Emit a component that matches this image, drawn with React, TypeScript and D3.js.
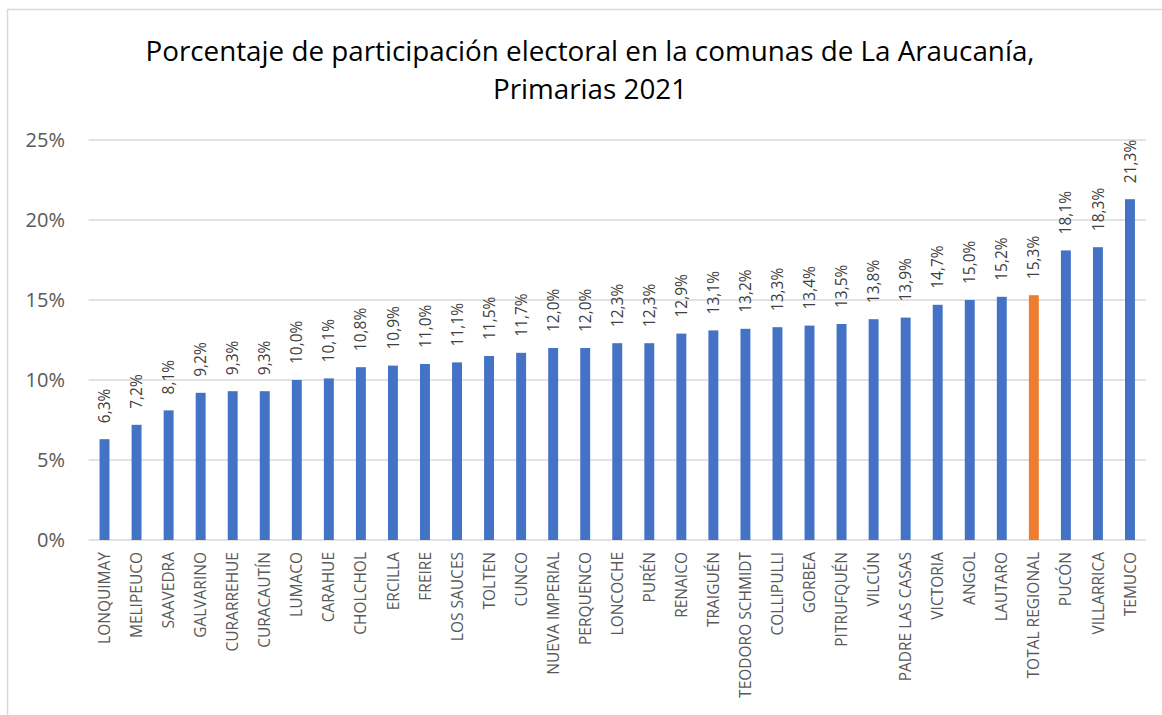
import React from "react";
import * as d3 from "d3";

const comunas: string[] = [
  "LONQUIMAY", "MELIPEUCO", "SAAVEDRA", "GALVARINO", "CURARREHUE", "CURACAUTÍN",
  "LUMACO", "CARAHUE", "CHOLCHOL", "ERCILLA", "FREIRE", "LOS SAUCES", "TOLTEN",
  "CUNCO", "NUEVA IMPERIAL", "PERQUENCO", "LONCOCHE", "PURÉN", "RENAICO",
  "TRAIGUÉN", "TEODORO SCHMIDT", "COLLIPULLI", "GORBEA", "PITRUFQUÉN", "VILCÚN",
  "PADRE LAS CASAS", "VICTORIA", "ANGOL", "LAUTARO", "TOTAL REGIONAL", "PUCÓN",
  "VILLARRICA", "TEMUCO",
];

const participacion: number[] = [
  6.3, 7.2, 8.1, 9.2, 9.3, 9.3, 10.0, 10.1, 10.8, 10.9, 11.0, 11.1, 11.5, 11.7,
  12.0, 12.0, 12.3, 12.3, 12.9, 13.1, 13.2, 13.3, 13.4, 13.5, 13.8, 13.9, 14.7,
  15.0, 15.2, 15.3, 18.1, 18.3, 21.3,
];

const highlighted: string[] = ["TOTAL REGIONAL"];

const yTicks: number[] = [0, 5, 10, 15, 20, 25];

const titleLines: string[] = [
  "Porcentaje de participación electoral en la comunas de La Araucanía,",
  "Primarias 2021",
];

const W = 1162;
const H = 715;
const FONT = "'Open Sans', sans-serif";

export default function App() {
  const x = d3
    .scaleBand<string>()
    .domain(comunas)
    .range([88.5, 1146])
    .paddingInner(0.69)
    .paddingOuter(0.345);
  const y = d3.scaleLinear().domain([0, 25]).range([540, 140]);
  const fmt = (v: number) => d3.format(".1f")(v).replace(".", ",") + "%";

  return (
    <svg
      width={W}
      height={H}
      style={{ position: "absolute", left: 0, top: 0, background: "#fff" }}
      fontFamily={FONT}
    >
      <rect x={7.5} y={9.5} width={W} height={H} fill="#fff" stroke="#d9d9d9" strokeWidth={1.5} />
      {titleLines.map((t, i) => (
        <text key={i} x={590} y={61 + i * 38} textAnchor="middle" fontSize={27.8} fill="#000">
          {t}
        </text>
      ))}
      {yTicks.map((t) => (
        <g key={t}>
          <line x1={88.5} x2={1146} y1={y(t)} y2={y(t)} stroke="#d9d9d9" strokeWidth={1.5} />
          <text x={65} y={y(t)} dy="0.36em" textAnchor="end" fontSize={20} fill="#595959">
            {t}%
          </text>
        </g>
      ))}
      {comunas.map((c, i) => {
        const v = participacion[i];
        const bx = x(c)!;
        const cx = bx + x.bandwidth() / 2;
        const top = y(v);
        return (
          <g key={c}>
            <rect
              x={bx}
              y={top}
              width={x.bandwidth()}
              height={y(0) - top}
              fill={highlighted.includes(c) ? "#ED7D31" : "#4472C4"}
            />
            <text
              transform={`translate(${cx},${top - 16}) rotate(-90)`}
              dy="0.36em"
              textAnchor="start"
              fontSize={15.5}
              fill="#404040"
            >
              {fmt(v)}
            </text>
            <text
              transform={`translate(${cx},552) rotate(-90)`}
              dy="0.36em"
              textAnchor="end"
              fontSize={15.5}
              fill="#595959"
            >
              {c}
            </text>
          </g>
        );
      })}
    </svg>
  );
}
